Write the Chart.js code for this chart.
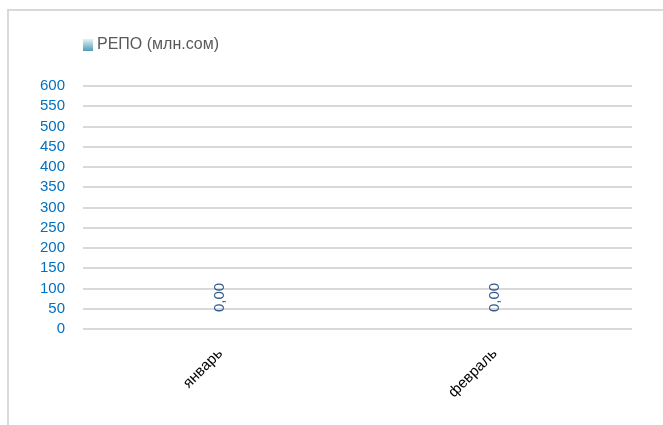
<!DOCTYPE html>
<html>
<head>
<meta charset="utf-8">
<script src="https://cdn.jsdelivr.net/npm/chart.js@4"></script>
<style>
  html, body { margin: 0; padding: 0; background: #fff; }
  #wrap { position: relative; width: 663px; height: 425px; overflow: hidden; }
  #frame { position: absolute; left: 7px; top: 9px; width: 700px; height: 500px;
           border-left: 2px solid #D9D9D9; border-top: 2px solid #D9D9D9; }
  canvas { position: absolute; left: 0; top: 0; }
</style>
</head>
<body>
<div id="wrap">
  <div id="frame"></div>
  <canvas id="chart" width="663" height="425"></canvas>
</div>
<script>
const months = ['январь', 'февраль'];
const repoValues = [0, 0];
const seriesName = 'РЕПО (млн.сом)';
const yMin = 0;
const yMax = 600;
const yStep = 50;

const fontFamily = "'Liberation Sans', Arial, sans-serif";

// small gradient square used as legend marker (left part of the canvas stays empty)
function legendMarker() {
    const c = document.createElement('canvas');
    c.width = 14;
    c.height = 12;
    const g = c.getContext('2d');
    const grad = g.createLinearGradient(0, 0, 0, 12);
    grad.addColorStop(0, '#E4F3F7');
    grad.addColorStop(1, '#4E9CB6');
    g.fillStyle = grad;
    g.fillRect(4, 0, 10, 12);
    return c;
}

// vertical value labels above the bars
const valueLabels = {
    id: 'valueLabels',
    afterDatasetsDraw(chart) {
        const ctx = chart.ctx;
        const meta = chart.getDatasetMeta(0);
        meta.data.forEach((bar, i) => {
            const text = repoValues[i].toFixed(2).replace('.', ',');
            ctx.save();
            ctx.translate(bar.x, bar.y - 17);
            ctx.rotate(-Math.PI / 2);
            ctx.font = '15px ' + fontFamily;
            ctx.fillStyle = '#2E5A8E';
            ctx.textAlign = 'left';
            ctx.textBaseline = 'middle';
            ctx.fillText(text, 0, 0);
            ctx.restore();
        });
    }
};

new Chart(document.getElementById('chart'), {
    type: 'bar',
    data: {
        labels: months,
        datasets: [{
            label: seriesName,
            data: repoValues,
            backgroundColor: '#4E9CB6',
            borderWidth: 0,
            pointStyle: legendMarker()
        }]
    },
    options: {
        responsive: false,
        animation: false,
        layout: { padding: { top: 37, left: 30, right: 31, bottom: 0 } },
        plugins: {
            legend: {
                position: 'top',
                align: 'start',
                fullSize: false,
                labels: {
                    usePointStyle: true,
                    boxWidth: 6,
                    padding: 0,
                    color: '#595959',
                    font: { family: fontFamily, size: 16 }
                }
            },
            // empty spacer between legend and plot
            title: {
                display: true,
                text: '',
                weight: 500,
                fullSize: false,
                padding: 0,
                font: { size: 23, lineHeight: 1 }
            },
            tooltip: { enabled: false }
        },
        scales: {
            x: {
                grid: { display: false, drawTicks: false },
                border: { display: false },
                ticks: {
                    minRotation: 45,
                    maxRotation: 45,
                    padding: 16,
                    color: '#000000',
                    font: { family: fontFamily, size: 15 }
                },
                afterFit: (scale) => { scale.height = 96; }
            },
            y: {
                min: yMin,
                max: yMax,
                grid: { color: '#D9D9D9', lineWidth: 2, drawTicks: false },
                border: { display: false },
                ticks: {
                    stepSize: yStep,
                    autoSkip: false,
                    padding: 18,
                    color: '#0070C0',
                    font: { family: fontFamily, size: 15 }
                },
                afterFit: (scale) => { scale.width = 53; }
            }
        }
    },
    plugins: [valueLabels]
});
</script>
</body>
</html>
